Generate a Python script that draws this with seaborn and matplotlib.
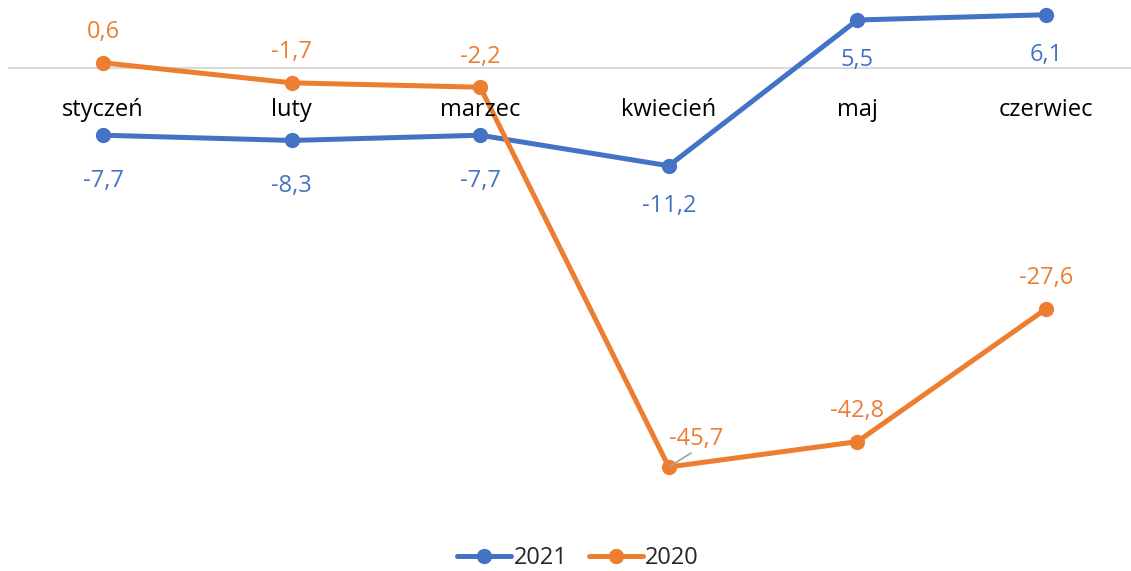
import numpy as np
import pandas as pd
import matplotlib
matplotlib.use("Agg")
import matplotlib.pyplot as plt
import seaborn as sns
from matplotlib.lines import Line2D

months = ["styczeń", "luty", "marzec", "kwiecień", "maj", "czerwiec"]
v2021 = [-7.7, -8.3, -7.7, -11.2, 5.5, 6.1]
v2020 = [0.6, -1.7, -2.2, -45.7, -42.8, -27.6]
series_names = ["2021", "2020"]

sns.set_theme(style="white")
plt.rcParams['font.family'] = ['Open Sans', 'DejaVu Sans']

BLUE = "#4472C4"
ORANGE = "#ED7D31"

df = pd.DataFrame({
    "x": list(range(len(months))) * 2,
    "value": v2021 + v2020,
    "year": [series_names[0]] * len(months) + [series_names[1]] * len(months),
})

fig = plt.figure(figsize=(11.31, 5.71), dpi=100)
ax = fig.add_axes([0.0, 0.1156, 1.0, 0.8844])

ax.axhline(0, xmin=(9/1131), xmax=1.0, color="#D9D9D9", lw=1.5, zorder=1)

LW = 3.6
MS = 11
sns.lineplot(data=df, x="x", y="value", hue="year", palette={"2021": BLUE, "2020": ORANGE},
             marker="o", markersize=MS, markeredgewidth=0, linewidth=LW, ax=ax,
             legend=False, zorder=3)

ax.set_xlim(-103/188.6, (1131-103)/188.6)
ax.set_ylim(-(505-68)/8.73, 68/8.73)
ax.axis("off")

def fmt(v):
    return f"{v:.1f}".replace(".", ",")

fs = 17
# category labels
for i, m in enumerate(months):
    ax.annotate(m, (i, 0), xytext=(0, -30), textcoords="offset points", ha="center", va="center",
                fontsize=fs, color="#000000")

# 2021 labels (below)
for i, v in enumerate(v2021):
    off = -33 if i < 3 else -29
    ax.annotate(fmt(v), (i, v), xytext=(0, off), textcoords="offset points", ha="center", va="center",
                fontsize=fs, color=BLUE)

# 2020 labels (above)
for i, v in enumerate(v2020):
    if i == 3:
        ax.annotate(fmt(v), (i, v), xytext=(20, 20), textcoords="offset points", ha="center", va="center",
                    fontsize=fs, color=ORANGE, zorder=4)
        ax.annotate("", xy=(i, v), xytext=(16, 10), textcoords="offset points",
                    arrowprops=dict(arrowstyle="-", color="#A6A6A6", lw=1.3, shrinkA=0, shrinkB=1),
                    zorder=4)
    else:
        ax.annotate(fmt(v), (i, v), xytext=(0, 22), textcoords="offset points", ha="center", va="center",
                    fontsize=fs, color=ORANGE)

handles = [Line2D([0], [0], color=BLUE, lw=LW, marker="o", markersize=MS, markeredgewidth=0),
           Line2D([0], [0], color=ORANGE, lw=LW, marker="o", markersize=MS, markeredgewidth=0)]
fig.legend(handles, series_names, loc="center", bbox_to_anchor=(578/1131, 1 - 558/571), ncol=2,
           frameon=False, fontsize=fs, handlelength=2.3, handletextpad=0.1, columnspacing=0.9)

fig.savefig("out.png", dpi=100)
